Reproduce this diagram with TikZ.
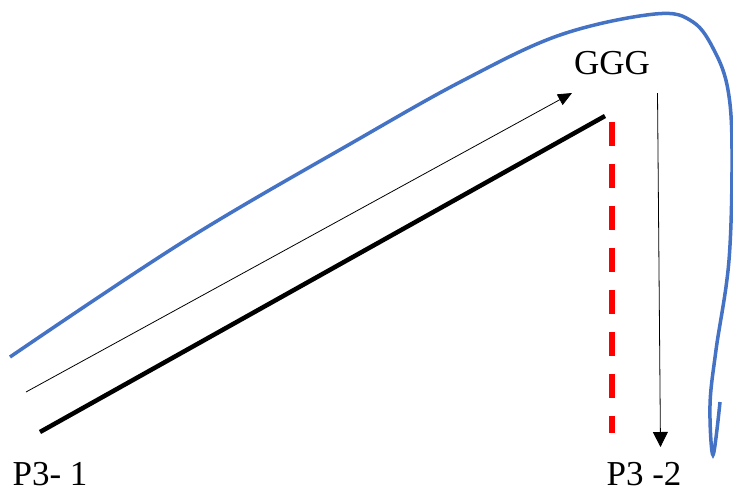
\documentclass[tikz,border=0pt]{standalone}
\usepackage{fontspec}
\setmainfont{Liberation Serif}
\usetikzlibrary{arrows.meta}
\definecolor{curveblue}{HTML}{4472C4}
\begin{document}
\begin{tikzpicture}[x=1pt,y=-1pt,font=\fontsize{35}{40}\selectfont]
  \useasboundingbox (0,0) rectangle (733,493);
  % labels
  \node[anchor=base,inner sep=0pt] (top) at (612,74) {GGG};
  \node[anchor=base,inner sep=0pt] (left) at (50,485) {P3- 1};
  \node[anchor=base,inner sep=0pt] (right) at (644,485) {P3 -2};
  % end points
  \coordinate (up1) at (26,392);
  \coordinate (up2) at (572,93);
  \coordinate (base1) at (40,432);
  \coordinate (base2) at (605,116);
  \coordinate (red1) at (612,122);
  \coordinate (red2) at (612,433);
  \coordinate (down1) at (657.5,93);
  \coordinate (down2) at (660.5,447);
  % the curve
  \draw[curveblue,line width=3.5pt] plot[smooth,tension=0.6] coordinates
    {(10,357) (186,240) (357,140) (464,80) (560,35) (655,14) (693,22)
     (715,52) (728,90) (732,150) (729,260) (716,350) (710,405) (713,455) (720,402)};
  \draw[line width=4.5pt] (base1) -- (base2);
  \draw[red,line width=5.5pt,dash pattern=on 24pt off 18pt] (red1) -- (red2);
  \draw[line width=0.8pt,-{Triangle[length=14pt,width=12pt]}] (up1) -- (up2);
  \draw[line width=0.8pt,-{Triangle[length=15pt,width=15pt]}] (down1) -- (down2);
\end{tikzpicture}
\end{document}
